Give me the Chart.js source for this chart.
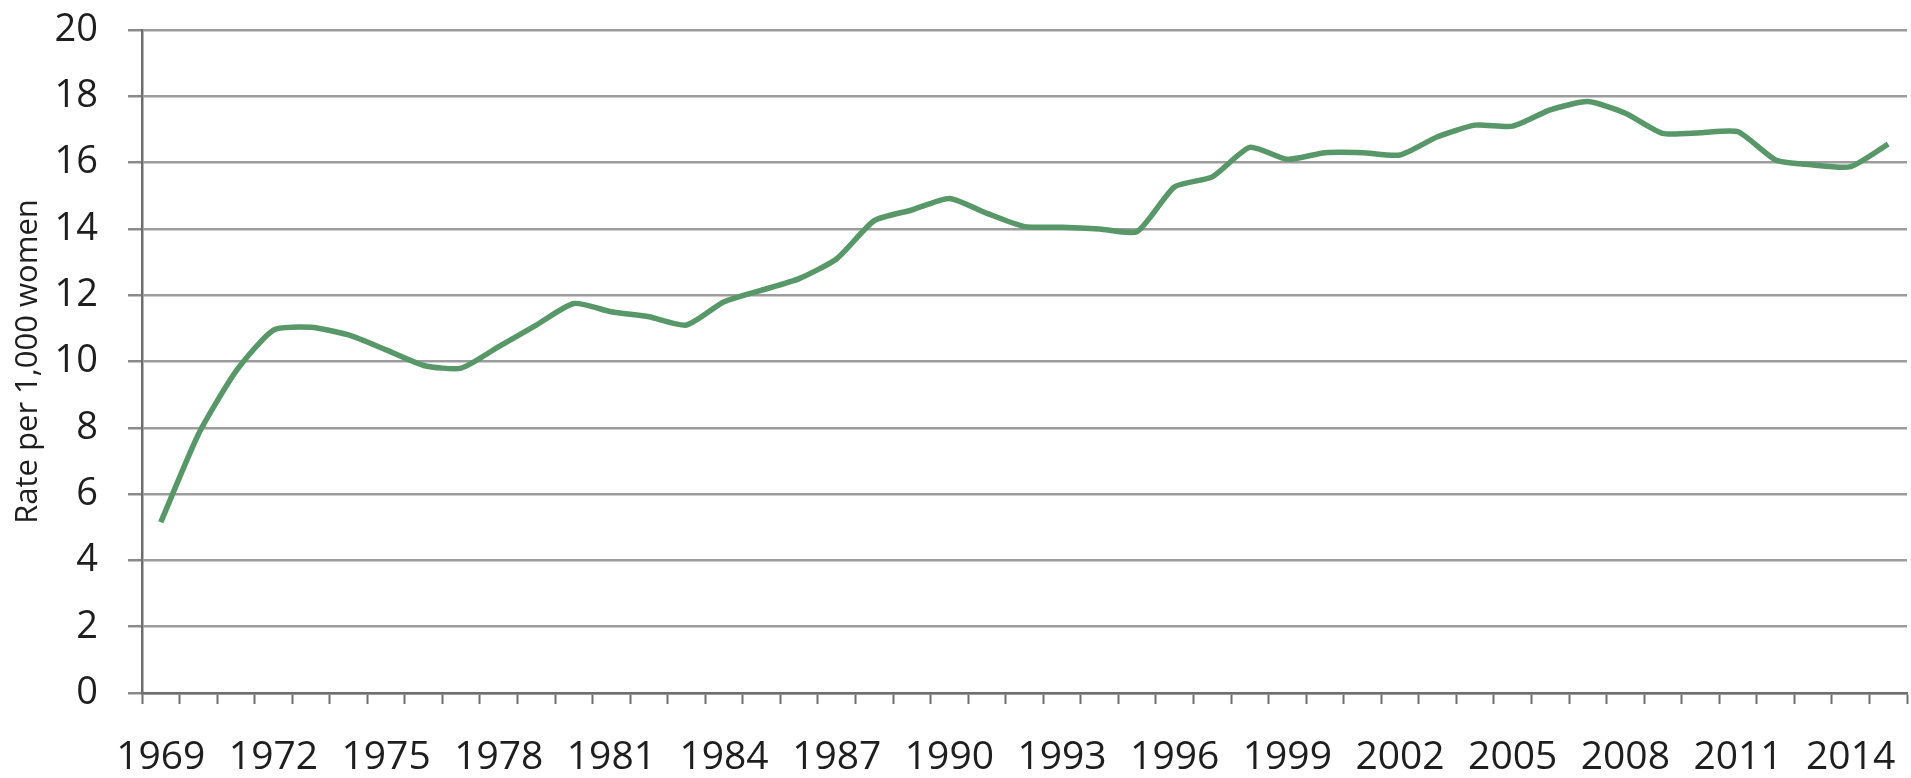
<!DOCTYPE html>
<html>
<head>
<meta charset="utf-8">
<script src="https://cdn.jsdelivr.net/npm/chart.js@4.4.1/dist/chart.umd.min.js"></script>
<style>
  html, body { margin: 0; padding: 0; background: #ffffff; }
  #wrap { position: relative; width: 1911px; height: 778px; }
</style>
</head>
<body>
<div id="wrap"><canvas id="c" width="1911" height="778"></canvas></div>
<script>
const years = [1969,1970,1971,1972,1973,1974,1975,1976,1977,1978,1979,1980,1981,1982,1983,1984,1985,1986,1987,1988,1989,1990,1991,1992,1993,1994,1995,1996,1997,1998,1999,2000,2001,2002,2003,2004,2005,2006,2007,2008,2009,2010,2011,2012,2013,2014,2015];
const rates = [5.15,7.8,9.7,10.95,11.03,10.8,10.35,9.88,9.8,10.45,11.1,11.75,11.5,11.35,11.1,11.8,12.15,12.5,13.1,14.25,14.57,14.92,14.47,14.07,14.05,14.0,13.92,15.27,15.57,16.46,16.1,16.3,16.3,16.23,16.78,17.13,17.1,17.59,17.84,17.49,16.88,16.9,16.93,16.08,15.93,15.88,16.56];
const yTicks = [0,2,4,6,8,10,12,14,16,18,20];
const labelEvery = 3;
const yTitle = 'Rate per 1,000 women';

new Chart(document.getElementById('c'), {
  type: 'line',
  data: {
    labels: years.map(String),
    datasets: [{
      data: rates,
      borderColor: '#589868',
      borderWidth: 5.5,
      pointRadius: 0,
      tension: 0.2,
      fill: false
    }]
  },
  options: {
    responsive: false,
    animation: false,
    devicePixelRatio: 1,
    layout: { padding: { top: 30, right: 4, left: 0, bottom: 0 } },
    plugins: { legend: { display: false }, tooltip: { enabled: false } },
    scales: {
      x: {
        type: 'category',
        offset: true,
        grid: {
          offset: true,
          drawOnChartArea: false,
          drawTicks: true,
          tickLength: 11,
          tickWidth: 2,
          tickColor: '#6e6e6e'
        },
        border: { display: true, color: '#6e6e6e', width: 2.5 },
        ticks: {
          autoSkip: false,
          maxRotation: 0,
          minRotation: 0,
          padding: 30,
          color: '#1e1e1e',
          font: { family: 'Open Sans', size: 39 },
          callback: function(v, i) { return i % labelEvery === 0 ? years[i] : ''; }
        },
        afterFit: function(s) { s.height = 85; s.paddingLeft = 0; s.paddingRight = 0; }
      },
      y: {
        min: yTicks[0],
        max: yTicks[yTicks.length - 1],
        afterBuildTicks: function(s) { s.ticks = yTicks.map(v => ({ value: v })); },
        grid: {
          color: '#9c9c9c',
          lineWidth: 2.5,
          drawTicks: true,
          tickLength: 14,
          tickColor: '#8a8a8a'
        },
        border: { display: true, color: '#6e6e6e', width: 2.5 },
        ticks: {
          padding: 30,
          color: '#1e1e1e',
          font: { family: 'Open Sans', size: 38 }
        },
        title: {
          display: true,
          text: yTitle,
          color: '#1e1e1e',
          font: { family: 'Open Sans', size: 31 },
          padding: { top: 10, bottom: 0 }
        },
        afterFit: function(s) { s.width = 142; s.paddingTop = 0; s.paddingBottom = 0; }
      }
    }
  }
});
</script>
</body>
</html>
